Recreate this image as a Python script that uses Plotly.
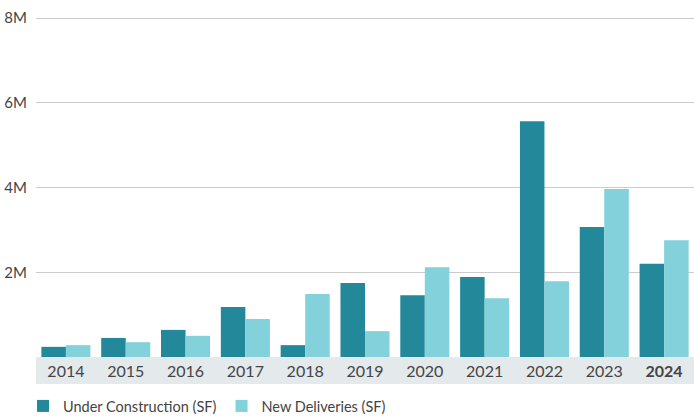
import plotly.graph_objects as go

years = ["2014","2015","2016","2017","2018","2019","2020","2021","2022","2023","2024"]
year_labels = years[:-1] + ["<b>2024</b>"]
under_construction = [0.24e6, 0.45e6, 0.64e6, 1.18e6, 0.28e6, 1.75e6, 1.46e6, 1.89e6, 5.57e6, 3.07e6, 2.20e6]
new_deliveries = [0.28e6, 0.35e6, 0.50e6, 0.90e6, 1.49e6, 0.61e6, 2.12e6, 1.39e6, 1.79e6, 3.97e6, 2.76e6]
y_ticks = [2e6, 4e6, 6e6, 8e6]
y_tick_labels = ["2M", "4M", "6M", "8M"]

FONT = "Lato, 'Open Sans', sans-serif"
fig = go.Figure()
fig.add_trace(go.Bar(x=years, y=under_construction, name="Under Construction (SF)",
                     marker=dict(color="#23889A", line=dict(width=0))))
fig.add_trace(go.Bar(x=years, y=new_deliveries, name="New Deliveries (SF)",
                     marker=dict(color="#83D1DB", line=dict(width=0))))

T, B = 14, 59
PLOT_H = 416 - T - B
fig.add_shape(type="rect", xref="paper", yref="paper", x0=0, x1=1,
              y0=-27/PLOT_H, y1=0, fillcolor="#E4E9EC", line=dict(width=0), layer="below")

fig.update_layout(
    width=694, height=416,
    margin=dict(l=36, r=0, t=T, b=B, autoexpand=False),
    paper_bgcolor="white", plot_bgcolor="white",
    barmode="group", bargap=0.18, bargroupgap=0,
    font=dict(family=FONT, color="#444444"),
    showlegend=True,
    legend=dict(orientation="h", xref="container", yref="container",
                x=23/694, xanchor="left", y=1 - 406/416, yanchor="middle",
                font=dict(size=14.5, color="#444444"), itemwidth=30, traceorder="normal"),
    xaxis=dict(tickmode="array", tickvals=years, ticktext=year_labels,
               tickfont=dict(size=16, color="#444444"), showgrid=False, showline=False,
               ticks="", ticklabelstandoff=3, fixedrange=True),
    yaxis=dict(range=[0, 8.1e6], tickmode="array", tickvals=y_ticks, ticktext=y_tick_labels,
               tickfont=dict(size=15, color="#444444"), showgrid=True, gridcolor="#CCCCCC",
               gridwidth=1, zeroline=False, showline=False, ticks="", ticklabelstandoff=8),
)
fig.write_html("out.html")
